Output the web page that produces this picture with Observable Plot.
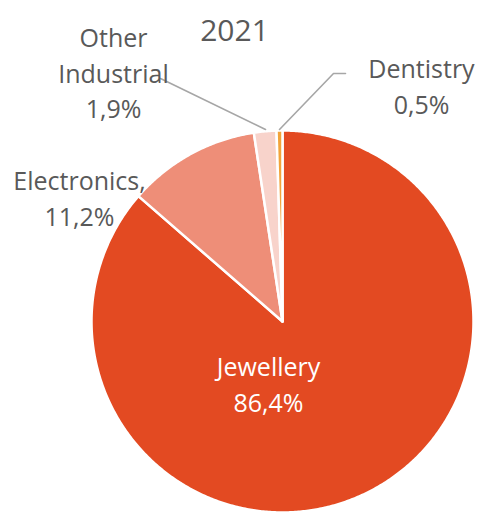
<!DOCTYPE html>
<html><head><meta charset="utf-8">
<script src="https://cdn.jsdelivr.net/npm/d3@7"></script>
<script src="https://cdn.jsdelivr.net/npm/@observablehq/plot@0.6"></script>
<style>html,body{margin:0;padding:0;background:#fff;} svg{display:block}</style>
</head><body><div id="chart"></div>
<script>
// ---- data ----
const title = "2021";
const categories = ["Jewellery", "Electronics", "Other Industrial", "Dentistry"];
const shares = [86.4, 11.2, 1.9, 0.5];
const labels = ["Jewellery\n86,4%", "Electronics,\n11,2%", "Other\nIndustrial\n1,9%", "Dentistry\n0,5%"];
const colors = ["#E34A22", "#EE8E78", "#F8D3CB", "#F2A33A"];

// ---- layout ----
const W = 478, H = 512, cx = 282, cy = 321, R = 191;
const labelPos = [
  {x: 268, y: 382, fill: "#ffffff"},
  {x: 79, y: 196, fill: "#595959"},
  {x: 113, y: 71, fill: "#595959"},
  {x: 421, y: 84, fill: "#595959"}
];
const leaders = [
  {i: 2, pts: [[160, 78], [265, 129]]},
  {i: 3, pts: [[345, 73], [333, 73], [279, 129]]}
];

const arcs = d3.pie().sort(null).value(d => d)(shares);
const slicePts = [];
arcs.forEach((a, i) => {
  const name = categories[i];
  slicePts.push({name, color: colors[i], x: cx, y: cy});
  const n = Math.max(4, Math.ceil((a.endAngle - a.startAngle) / (Math.PI / 360)));
  for (let k = 0; k <= n; k++) {
    const t = a.startAngle + (a.endAngle - a.startAngle) * k / n;
    slicePts.push({name, color: colors[i], x: cx + R * Math.sin(t), y: cy - R * Math.cos(t)});
  }
});
const labelData = labels.map((t, i) => ({text: t, ...labelPos[i]}));
const leaderPts = leaders.flatMap(l => l.pts.map(p => ({id: categories[l.i], x: p[0], y: p[1]})));

const chart = Plot.plot({
  width: W, height: H,
  margin: 0,
  x: {domain: [0, W], range: [0, W], axis: null},
  y: {domain: [0, H], range: [0, H], axis: null},
  color: {type: "identity"},
  style: {background: "#fff", fontFamily: "'Open Sans', sans-serif"},
  marks: [
    Plot.line(slicePts, {x: "x", y: "y", z: "name", fill: "color", stroke: "#fff", strokeWidth: 2.5, strokeLinejoin: "round", curve: "linear-closed"}),
    Plot.line(leaderPts, {x: "x", y: "y", z: "id", stroke: "#A6A6A6", strokeWidth: 1.6}),
    Plot.text(labelData, {x: "x", y: "y", text: "text", fill: "fill", fontSize: 25, lineHeight: 1.42, lineAnchor: "middle", textAnchor: "middle"}),
    Plot.text([title], {x: () => 234, y: () => 31, text: d => d, fill: "#595959", fontSize: 30, lineAnchor: "middle", textAnchor: "middle"})
  ]
});
document.getElementById("chart").appendChild(chart);
</script>
</body></html>
